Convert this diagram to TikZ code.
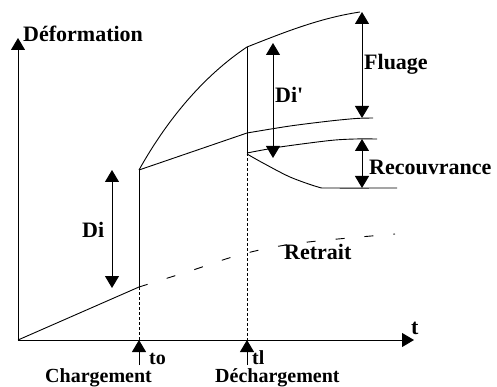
\documentclass[tikz,border=0pt]{standalone}
\usepackage{fontspec}
\setmainfont{Liberation Serif}
\usetikzlibrary{arrows.meta}
\begin{document}
\begin{tikzpicture}[x=1pt,y=-1pt,
  >={Triangle[width=14pt,length=12pt]},
  curve/.style={line width=0.9pt},
  axisline/.style={line width=1pt},
  guide/.style={line width=0.8pt,dash pattern=on 3pt off 2pt},
  shrink/.style={line width=0.9pt,dash pattern=on 9pt off 20pt},
  lbl/.style={font=\fontsize{22}{24}\selectfont\bfseries,inner sep=0pt,anchor=base west},
  sublbl/.style={lbl,font=\fontsize{20}{22}\selectfont\bfseries}]
\useasboundingbox[fill=white] (0,0) rectangle (497,387);
% key points
\coordinate (O) at (18,340);
\coordinate (Ytip) at (18,38);
\coordinate (Xtip) at (414,340);
\coordinate (A0) at (139,287);
\coordinate (B0) at (139,170);
\coordinate (T0) at (139,340);
\coordinate (B1) at (247,47);
\coordinate (C1) at (247,133);
\coordinate (D1) at (247,153);
\coordinate (T1) at (247,340);
\coordinate (E) at (360,12);
\coordinate (F) at (373,118);
\coordinate (G) at (377,139);
\coordinate (H) at (397,188);
\coordinate (R) at (395,234);
% arrow end points
\coordinate (DiT) at (112,170);  \coordinate (DiB) at (112,288);
\coordinate (DpT) at (273,43);   \coordinate (DpB) at (273,158);
\coordinate (FlT) at (362,12);   \coordinate (FlB) at (362,118);
\coordinate (ReT) at (362,139);  \coordinate (ReB) at (362,188);
\coordinate (S0) at (139,365);   \coordinate (S1) at (247,365);
% axes
\draw[axisline,->] (O) -- (Ytip);
\draw[axisline,->] (O) -- (Xtip);
% guides
\draw[guide] (A0) -- (T0);
\draw[guide] (D1) -- (T1);
% verticals
\draw[curve] (A0) -- (B0);
\draw[curve] (B1) -- (D1);
% shrinkage
\draw[curve] (O) -- (A0);
\draw[shrink] plot[smooth,tension=0.6] coordinates {(A0) (190,271) (243,254) (300,243) (R)};
% creep curves
\draw[curve] (B0) .. controls (168,118) and (205,75) .. (B1)
             .. controls (285,32) and (320,18) .. (E);
\draw[curve] (B0) -- (C1);
\draw[curve] plot[smooth,tension=0.5] coordinates {(C1) (290,126) (330,121) (356,118.5) (F)};
\draw[curve] plot[smooth,tension=0.5] coordinates {(D1) (280,147) (330,140.5) (355,139) (G)};
\draw[curve] plot[smooth,tension=0.5] coordinates {(247,154) (263,163) (290,177) (318,187) (330,188) (H)};
% dimension arrows
\draw[axisline,<->] (DiT) -- (DiB);
\draw[axisline,<->] (DpT) -- (DpB);
\draw[axisline,<->] (FlT) -- (FlB);
\draw[axisline,<->] (ReT) -- (ReB);
\draw[axisline,->] (S0) -- (T0);
\draw[axisline,->] (S1) -- (T1);
% labels
\node[lbl] (ldef) at (23,42) {Déformation};
\node[lbl] (lt) at (411,334) {t};
\node[lbl] (lflu) at (364,70) {Fluage};
\node[lbl] (ldp) at (275,103) {Di\textquotesingle};
\node[lbl] (lrec) at (369,175) {Recouvrance};
\node[lbl] (lret) at (284,259) {Retrait};
\node[lbl] (ldi) at (82,237) {Di};
\node[sublbl] (lto) at (149,364) {to};
\node[sublbl] (ltl) at (252,364) {tl};
\node[sublbl] (lch) at (45,382.5) {Chargement};
\node[sublbl] (ldch) at (215,382.5) {Déchargement};
\end{tikzpicture}
\end{document}
